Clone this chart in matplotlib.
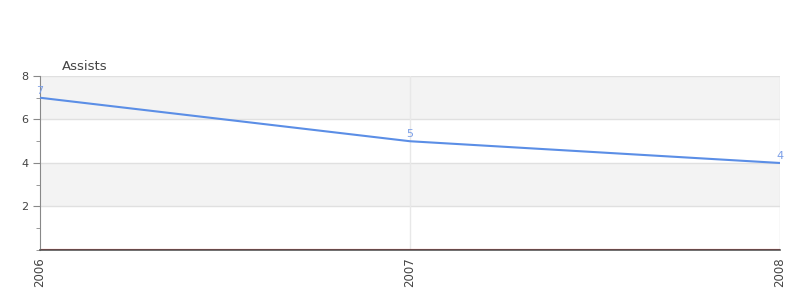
import matplotlib.pyplot as plt
import matplotlib.transforms as mtransforms
from matplotlib.ticker import MultipleLocator

years = ['2006', '2007', '2008']
assists = [7, 5, 4]

x = list(range(len(years)))

fig = plt.figure(figsize=(8, 3), dpi=100)
ax = fig.add_axes([0.05, 0.1667, 0.925, 0.58])

# alternating bands
for lo, hi in [(2, 4), (6, 8)]:
    ax.axhspan(lo, hi, color='#f3f3f3', zorder=0, lw=0)
for yv in [2, 4, 6, 8]:
    ax.axhline(yv, color='#e0e0e0', lw=1, zorder=1)
ax.axvline(1, color='#e8e8e8', lw=1, zorder=1)
ax.axvline(2, color='#e0e0e0', lw=1, zorder=1)

ax.plot(x, assists, color='#5b8ee6', lw=1.5, zorder=3)
for xi, yi in zip(x, assists):
    ax.annotate(str(yi), (xi, yi), xytext=(0, 1.5), textcoords='offset points',
                ha='center', va='bottom', fontsize=8, color='#7a9ee8')

ax.set_xlim(0, 2)
ax.set_ylim(0, 8)
ax.set_xticks(x)
ax.set_xticklabels(years, rotation=90, fontsize=8.5, color='#444444')
ax.set_yticks([2, 4, 6, 8])
ax.yaxis.set_minor_locator(MultipleLocator(1))
ax.tick_params(axis='y', labelsize=8, labelcolor='#444444', length=5, color='#888888')
ax.tick_params(axis='y', which='minor', length=3, color='#888888')
ax.tick_params(axis='x', length=0, pad=5)

for side in ['top', 'right']:
    ax.spines[side].set_visible(False)
ax.spines['left'].set_color('#888888')
ax.spines['bottom'].set_color('#555555')
ax.spines['bottom'].set_linewidth(1.2)

# thin red zero line sitting just above the axis
shifted = mtransforms.offset_copy(ax.get_yaxis_transform(), fig=fig, y=1.2, units='dots')
ax.plot([0, 1], [0, 0], transform=shifted, color='#cc1111', lw=0.8, zorder=2)

fig.text(62 / 800, 1 - 66 / 300, 'Assists', fontsize=9.5, color='#444444',
         ha='left', va='center')

fig.savefig('out.png', dpi=100)
